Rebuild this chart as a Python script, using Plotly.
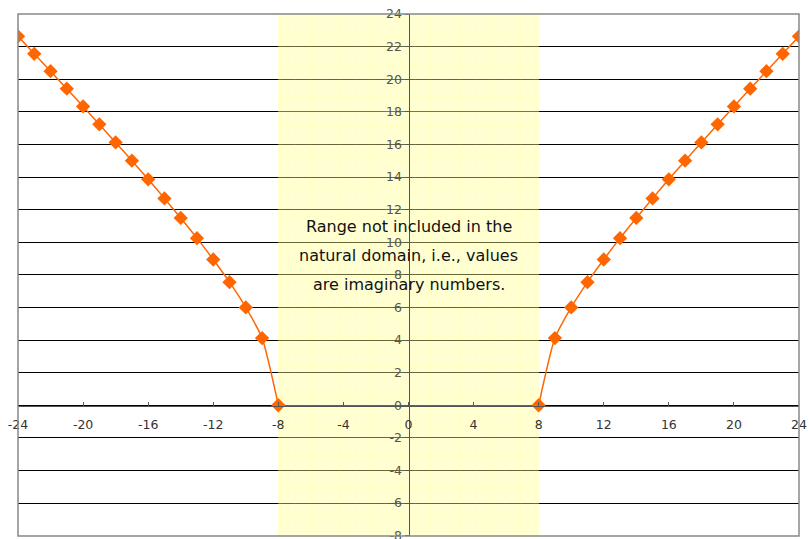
import plotly.graph_objects as go

# Left branch (x <= -8) and right branch (x >= 8)
x_left = [-24, -23, -22, -21, -20, -19, -18, -17, -16, -15, -14, -13, -12, -11, -10, -9, -8]
y_left = [22.63, 21.56, 20.49, 19.42, 18.33, 17.23, 16.12, 15.00, 13.86, 12.69, 11.49, 10.25, 8.94, 7.55, 6.00, 4.12, 0.00]
x_right = [8, 9, 10, 11, 12, 13, 14, 15, 16, 17, 18, 19, 20, 21, 22, 23, 24]
y_right = [0.00, 4.12, 6.00, 7.55, 8.94, 10.25, 11.49, 12.69, 13.86, 15.00, 16.12, 17.23, 18.33, 19.42, 20.49, 21.56, 22.63]

# Excluded interval shown as a shaded band
band_x = [0]
band_width = [16]
band_base = [-8]
band_height = [32]

x_ticks = [-24, -20, -16, -12, -8, -4, 0, 4, 8, 12, 16, 20, 24]
y_ticks = [-8, -6, -4, -2, 0, 2, 4, 6, 8, 10, 12, 14, 16, 18, 20, 22, 24]

note_lines = ["Range not included in the", "natural domain, i.e., values", "are imaginary numbers."]
note_y = [10.95, 9.17, 7.4]

orange = "#FF6600"
font_family = "DejaVu Sans, Verdana, sans-serif"

fig = go.Figure()

fig.add_trace(go.Bar(
    x=band_x, y=band_height, base=band_base, width=band_width,
    marker=dict(
        color="rgba(255,255,140,0.40)",
        line=dict(width=0),
        pattern=dict(shape="+", fgcolor="rgba(255,255,100,0.35)", size=15, solidity=0.08),
    ),
    hoverinfo="skip", showlegend=False,
))

for xs, ys in ((x_left, y_left), (x_right, y_right)):
    fig.add_trace(go.Scatter(
        x=xs, y=ys, mode="lines+markers",
        line=dict(color=orange, width=1.5, shape="spline", smoothing=0.6),
        marker=dict(symbol="diamond", size=11, color=orange),
        showlegend=False,
    ))

for txt, yy in zip(note_lines, note_y):
    fig.add_annotation(x=0, y=yy, text=txt, showarrow=False,
                       font=dict(family=font_family, size=16, color="#111111"))

# Plot-area frame
fig.add_shape(type="rect", xref="paper", yref="paper", x0=0, y0=0, x1=1, y1=1,
              line=dict(color="#888888", width=1.5), layer="above")

fig.update_layout(
    width=809, height=539,
    margin=dict(l=18, r=10, t=14, b=3, autoexpand=False),
    paper_bgcolor="white", plot_bgcolor="white",
    font=dict(family=font_family, size=12, color="#333333"),
    bargap=0,
    xaxis=dict(
        range=[-24, 24], tickvals=x_ticks, ticktext=[str(v) for v in x_ticks],
        showgrid=False, zeroline=False, automargin=False,
        showline=True, linecolor="#555555", linewidth=1,
        anchor="free", position=0.25,
        ticks="inside", ticklen=4, tickcolor="#555555",
        ticklabelstandoff=7,
        tickfont=dict(size=12.5, color="#333333"),
    ),
    yaxis=dict(
        range=[-8.02, 24], tickvals=y_ticks, ticktext=[str(v) for v in y_ticks],
        showgrid=True, gridcolor="#000000", gridwidth=1, zeroline=False, automargin=False,
        showline=True, linecolor="#555555", linewidth=1,
        anchor="free", position=0.5,
        ticks="outside", ticklen=4, tickcolor="#555555",
        ticklabeloverflow="allow",
        tickfont=dict(size=12.5, color="#555555"),
    ),
)

fig.write_html("out.html")
